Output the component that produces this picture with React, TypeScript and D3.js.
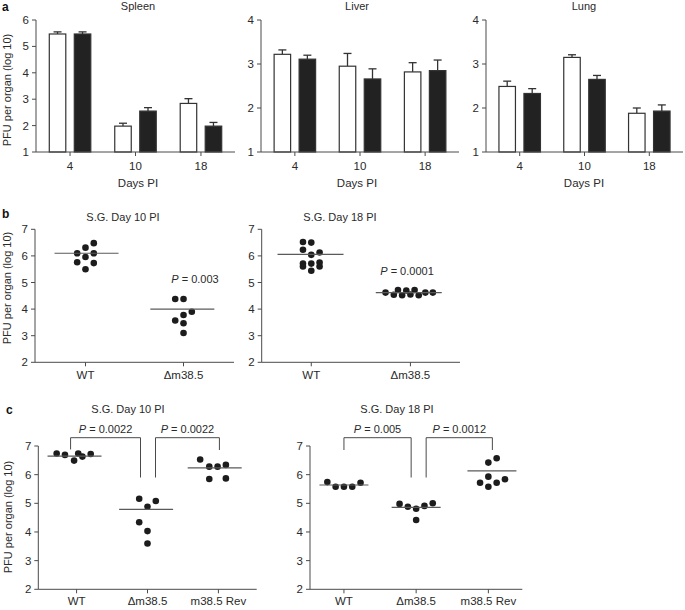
import React from "react";
import * as d3 from "d3";

// ---------- DATA ----------
const days = ["4", "10", "18"];
const organs = ["Spleen", "Liver", "Lung"];
const spleenTicks = [1, 2, 3, 4, 5, 6];
const otherTicks = [1, 2, 3, 4];

const spleenOpenMean = [5.47, 1.98, 2.84];
const spleenOpenSem = [0.08, 0.11, 0.18];
const spleenFilledMean = [5.47, 2.55, 1.98];
const spleenFilledSem = [0.08, 0.13, 0.14];
const liverOpenMean = [3.22, 2.95, 2.82];
const liverOpenSem = [0.1, 0.29, 0.21];
const liverFilledMean = [3.11, 2.66, 2.85];
const liverFilledSem = [0.09, 0.23, 0.24];
const lungOpenMean = [2.49, 3.15, 1.88];
const lungOpenSem = [0.12, 0.06, 0.12];
const lungFilledMean = [2.33, 2.65, 1.93];
const lungFilledSem = [0.11, 0.09, 0.14];

const groupsB = ["WT", "Δm38.5"];
const groupsC = ["WT", "Δm38.5", "m38.5 Rev"];
const scatterTicks = [2, 3, 4, 5, 6, 7];

// panel b, S.G. day 10
const b10WtValues = [6.48, 6.31, 6.1, 6.1, 5.96, 5.76, 5.73, 5.5];
const b10WtSlots = [1, 0, -1, 1, 0, -1, 1, 0];
const b10WtMean = 6.1;
const b10DelValues = [4.38, 4.38, 3.9, 3.78, 3.57, 3.47, 3.1];
const b10DelSlots = [-1, 0, 1, 0, -1, 0, 0];
const b10DelMean = 4.0;
const b10P = "0.003";

// panel b, S.G. day 18
const b18WtValues = [6.52, 6.5, 6.23, 6.04, 6.13, 5.71, 5.6, 5.71, 5.75, 5.6, 5.44];
const b18WtSlots = [-1, 0, -1, 0, 1, -1, -1, 0, 1, 1, 0];
const b18WtMean = 6.06;
const b18DelValues = [4.62, 4.54, 4.72, 4.52, 4.7, 4.55, 4.72, 4.52, 4.62, 4.62];
const b18DelSlots = [-3, -2, -1.5, -1, -0.5, 0, 0.5, 1, 1.8, 2.7];
const b18DelMean = 4.62;
const b18P = "0.0001";

// panel c, S.G. day 10
const c10WtValues = [6.74, 6.69, 6.49, 6.74, 6.63, 6.72];
const c10WtSlots = [-2.4, -1.4, -0.3, 0.2, 0.7, 1.7];
const c10WtMean = 6.65;
const c10DelValues = [5.16, 4.88, 5.08, 4.34, 4.03, 3.6];
const c10DelSlots = [-1, 0, 1, -1, 0, 0];
const c10DelMean = 4.79;
const c10RevValues = [6.53, 6.28, 6.28, 6.34, 5.85, 5.87];
const c10RevSlots = [-2.2, -1.1, -0.1, 0.9, -1.1, 0.9];
const c10RevMean = 6.24;
const c10P = ["0.0022", "0.0022"];

// panel c, S.G. day 18
const c18WtValues = [5.74, 5.58, 5.58, 5.58, 5.72];
const c18WtSlots = [-2, -1, 0, 1, 2];
const c18WtMean = 5.64;
const c18DelValues = [4.98, 4.88, 4.81, 4.91, 5.0, 4.42];
const c18DelSlots = [-2, -1, 0, 1, 2, 0];
const c18DelMean = 4.86;
const c18RevValues = [6.42, 6.57, 5.72, 5.58, 5.93, 5.72, 5.84];
const c18RevSlots = [0, 1, -1, 0, 0, 1, 2];
const c18RevMean = 6.13;
const c18P = ["0.005", "0.0012"];

// ---------- STYLE ----------
const FONT = "'Liberation Sans', Arial, Helvetica, sans-serif";
const AXIS = "#4a4a4a";
const TEXT = "#2a2a2a";
const FS = 11;
const TFS = 11.5;

function YAxis({ x, y, ticks }: any) {
  const [lo, hi] = [d3.min(ticks) as number, d3.max(ticks) as number];
  return (
    <g>
      <line x1={x} x2={x} y1={y(lo)} y2={y(hi)} stroke={AXIS} strokeWidth={1} />
      {ticks.map((t: number) => (
        <g key={t}>
          <line x1={x - 4} x2={x} y1={y(t)} y2={y(t)} stroke={AXIS} strokeWidth={1} />
          <text x={x - 7} y={y(t)} dy="0.35em" textAnchor="end" fontSize={TFS} fill={TEXT}>
            {t}
          </text>
        </g>
      ))}
    </g>
  );
}

function XAxis({ x0, x1, y0, x, cats, labelDy }: any) {
  return (
    <g>
      <line x1={x0} x2={x1} y1={y0} y2={y0} stroke={AXIS} strokeWidth={1} />
      {cats.map((c: string) => (
        <g key={c}>
          <line x1={x(c)} x2={x(c)} y1={y0} y2={y0 + 4} stroke={AXIS} strokeWidth={1} />
          <text x={x(c)} y={y0 + labelDy} textAnchor="middle" fontSize={TFS} fill={TEXT}>
            {c}
          </text>
        </g>
      ))}
    </g>
  );
}

function BarPanel({ x0, x1, yTop, yBottom, ticks, title, titleX, open, openSem, filled, filledSem }: any) {
  const x = d3.scalePoint<string>().domain(days).range([x0, x1]).padding(0.52);
  const y = d3.scaleLinear().domain([1, d3.max(ticks) as number]).range([yBottom, yTop]);
  const bw = 16.5;
  const off = 12.5;
  const bars = [
    { means: open, sems: openSem, dx: -off, fill: "#ffffff" },
    { means: filled, sems: filledSem, dx: off, fill: "#222222" },
  ];
  return (
    <g>
      <text x={titleX} y={10} textAnchor="middle" fontSize={FS} fill={TEXT}>{title}</text>
      {bars.map((b, bi) =>
        days.map((d, i) => {
          const cx = (x(d) as number) + b.dx;
          const top = y(b.means[i]);
          const err = y(b.means[i] + b.sems[i]);
          return (
            <g key={bi + "-" + d}>
              <line x1={cx} x2={cx} y1={top} y2={err} stroke="#333" strokeWidth={1.3} />
              <line x1={cx - 4} x2={cx + 4} y1={err} y2={err} stroke="#333" strokeWidth={1.3} />
              <rect x={cx - bw / 2} y={top} width={bw} height={y(1) - top} fill={b.fill} stroke="#333" strokeWidth={1.2} />
            </g>
          );
        })
      )}
      <YAxis x={x0} y={y} ticks={ticks} />
      <XAxis x0={x0} x1={x1} y0={y(1)} x={x} cats={days} labelDy={18} />
      <text x={titleX} y={187} textAnchor="middle" fontSize={TFS} fill={TEXT}>Days PI</text>
    </g>
  );
}

function PText({ x, y, value }: any) {
  return (
    <text x={x} y={y} textAnchor="middle" fontSize={FS} fill={TEXT}>
      <tspan fontStyle="italic">P</tspan>
      {" = " + value}
    </text>
  );
}

function ScatterPanel({ x0, x1, yTop, yBottom, groups, padding, series, title, titleX, titleY, lineHalf, labelDy, children }: any) {
  const x = d3.scalePoint<string>().domain(groups).range([x0, x1]).padding(padding);
  const y = d3.scaleLinear().domain([2, 7]).range([yBottom, yTop]);
  const slotW = 8.3;
  return (
    <g>
      <text x={titleX} y={titleY} textAnchor="middle" fontSize={FS} fill={TEXT}>{title}</text>
      {series.map((s: any, gi: number) => {
        const gx = x(groups[gi]) as number;
        const lineC = gx + (d3.mean(s.slots) as number) * slotW;
        return (
          <g key={gi}>
            {s.values.map((v: number, i: number) => (
              <circle key={i} cx={gx + s.slots[i] * slotW} cy={y(v)} r={3.3} fill="#1c1c1c" />
            ))}
            <line x1={lineC - lineHalf} x2={lineC + lineHalf} y1={y(s.mean)} y2={y(s.mean)} stroke="#5a5a5a" strokeWidth={1.2} />
          </g>
        );
      })}
      <YAxis x={x0} y={y} ticks={scatterTicks} />
      <XAxis x0={x0} x1={x1} y0={y(2)} x={x} cats={groups} labelDy={labelDy} />
      {children && children(x, y)}
    </g>
  );
}

function Brackets({ x, y, groups, pvals, legs, dxs }: any) {
  const topV = 7.29;
  return (
    <g>
      {[0, 1].map((k) => {
        const xa = (x(groups[k]) as number) + dxs[k][0];
        const xb = (x(groups[k + 1]) as number) + dxs[k][1];
        const yt = y(topV);
        return (
          <g key={k}>
            <path
              d={`M${xa},${y(legs[k][0])}V${yt}H${xb}V${y(legs[k][1])}`}
              fill="none"
              stroke={AXIS}
              strokeWidth={1}
            />
            <PText x={(xa + xb) / 2} y={yt - 5} value={pvals[k]} />
          </g>
        );
      })}
    </g>
  );
}

export default function App() {
  const ayTop = 20;
  const ayBot = 152;
  return (
    <svg
      width={685}
      height={610}
      style={{ position: "absolute", left: 0, top: 0, background: "#fff" }}
      fontFamily={FONT}
    >
      {/* panel a */}
      <text x={2} y={11} fontSize={12} fontWeight="bold" fill="#111">a</text>
      <text transform={`translate(10.5,90) rotate(-90)`} textAnchor="middle" fontSize={FS} fill={TEXT}>
        PFU per organ (log 10)
      </text>
      <BarPanel x0={36} x1={235} yTop={ayTop} yBottom={ayBot} ticks={spleenTicks} title={organs[0]} titleX={138}
        open={spleenOpenMean} openSem={spleenOpenSem} filled={spleenFilledMean} filledSem={spleenFilledSem} />
      <BarPanel x0={261} x1={459} yTop={ayTop} yBottom={ayBot} ticks={otherTicks} title={organs[1]} titleX={357}
        open={liverOpenMean} openSem={liverOpenSem} filled={liverFilledMean} filledSem={liverFilledSem} />
      <BarPanel x0={486} x1={683} yTop={ayTop} yBottom={ayBot} ticks={otherTicks} title={organs[2]} titleX={584}
        open={lungOpenMean} openSem={lungOpenSem} filled={lungFilledMean} filledSem={lungFilledSem} />

      {/* panel b */}
      <text x={2} y={218} fontSize={12} fontWeight="bold" fill="#111">b</text>
      <text transform={`translate(11,288) rotate(-90)`} textAnchor="middle" fontSize={FS} fill={TEXT}>
        PFU per organ (log 10)
      </text>
      <ScatterPanel x0={35} x1={234} yTop={229.3} yBottom={362.3} groups={groupsB} padding={0.515}
        title="S.G. Day 10 PI" titleX={123} titleY={221} lineHalf={32} labelDy={17}
        series={[
          { values: b10WtValues, slots: b10WtSlots, mean: b10WtMean },
          { values: b10DelValues, slots: b10DelSlots, mean: b10DelMean },
        ]}>
        {(x: any, y: any) => <PText x={195} y={283} value={b10P} />}
      </ScatterPanel>
      <ScatterPanel x0={261.7} x1={460} yTop={229.3} yBottom={362.3} groups={groupsB} padding={0.5}
        title="S.G. Day 18 PI" titleX={340} titleY={221} lineHalf={33} labelDy={17}
        series={[
          { values: b18WtValues, slots: b18WtSlots, mean: b18WtMean },
          { values: b18DelValues, slots: b18DelSlots, mean: b18DelMean },
        ]}>
        {(x: any, y: any) => <PText x={407} y={275} value={b18P} />}
      </ScatterPanel>

      {/* panel c */}
      <text x={6} y={414} fontSize={12} fontWeight="bold" fill="#111">c</text>
      <text transform={`translate(11.5,517) rotate(-90)`} textAnchor="middle" fontSize={FS} fill={TEXT}>
        PFU per organ (log 10)
      </text>
      <ScatterPanel x0={38.3} x1={256.7} yTop={446} yBottom={589.3} groups={groupsC} padding={0.54}
        title="S.G. Day 10 PI" titleX={128} titleY={413} lineHalf={27} labelDy={16}
        series={[
          { values: c10WtValues, slots: c10WtSlots, mean: c10WtMean },
          { values: c10DelValues, slots: c10DelSlots, mean: c10DelMean },
          { values: c10RevValues, slots: c10RevSlots, mean: c10RevMean },
        ]}>
        {(x: any, y: any) => (
          <Brackets x={x} y={y} groups={groupsC} pvals={c10P}
            legs={[[6.88, 5.9], [5.9, 6.86]]} dxs={[[-6, -7], [8, 1]]} />
        )}
      </ScatterPanel>
      <ScatterPanel x0={310} x1={522.3} yTop={446} yBottom={589.3} groups={groupsC} padding={0.47}
        title="S.G. Day 18 PI" titleX={397} titleY={413} lineHalf={24.5} labelDy={16}
        series={[
          { values: c18WtValues, slots: c18WtSlots, mean: c18WtMean },
          { values: c18DelValues, slots: c18DelSlots, mean: c18DelMean },
          { values: c18RevValues, slots: c18RevSlots, mean: c18RevMean },
        ]}>
        {(x: any, y: any) => (
          <Brackets x={x} y={y} groups={groupsC} pvals={c18P}
            legs={[[6.86, 5.9], [5.9, 6.86]]} dxs={[[0, -5], [10, 4]]} />
        )}
      </ScatterPanel>
    </svg>
  );
}
